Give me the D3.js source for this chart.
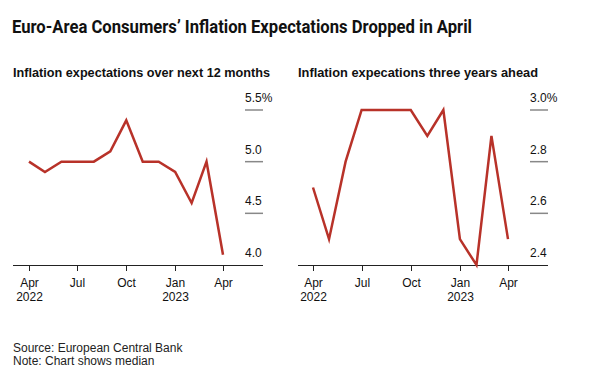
<!DOCTYPE html>
<html>
<head>
<meta charset="utf-8">
<script src="https://cdn.jsdelivr.net/npm/d3@7"></script>
<style>
  body { margin: 0; background: #fff; }
  text { font-family: "Liberation Sans", Arial, sans-serif; fill: #111; }
</style>
</head>
<body>
<svg id="chart" width="611" height="387"></svg>
<script>
// monthly data, Apr 2022 .. Apr 2023
var months      = ["2022-04","2022-05","2022-06","2022-07","2022-08","2022-09","2022-10",
                   "2022-11","2022-12","2023-01","2023-02","2023-03","2023-04"];
var next12      = [5.0, 4.9, 5.0, 5.0, 5.0, 5.1, 5.4, 5.0, 5.0, 4.9, 4.6, 5.0, 4.1];
var threeYears  = [2.7, 2.5, 2.8, 3.0, 3.0, 3.0, 3.0, 2.9, 3.0, 2.5, 2.4, 2.9, 2.5];
var tickMonths  = ["2022-04","2022-07","2022-10","2023-01","2023-04"];
var tickLabels  = [["Apr","2022"],["Jul",""],["Oct",""],["Jan","2023"],["Apr",""]];
var leftTicks   = [4.0, 4.5, 5.0, 5.5];
var rightTicks  = [2.4, 2.6, 2.8, 3.0];

var parse = d3.timeParse("%Y-%m");
var svg = d3.select("#chart");
var red = "#b83229";

// title, squeezed to the reference width
svg.append("text")
  .attr("x", 12).attr("y", 33)
  .style("font-family", "Roboto, 'Liberation Sans', sans-serif")
  .style("font-weight", "700")
  .style("font-size", "19px")
  .attr("textLength", 460).attr("lengthAdjust", "spacingAndGlyphs")
  .text("Euro-Area Consumers\u2019 Inflation Expectations Dropped in April");

function panel(opts) {
  var g = svg.append("g");

  g.append("text")
    .attr("x", opts.x0).attr("y", 77)
    .style("font-weight", "700").style("font-size", "12.5px")
    .attr("textLength", opts.subW).attr("lengthAdjust", "spacingAndGlyphs")
    .text(opts.subtitle);

  var x = d3.scaleTime()
    .domain([parse(months[0]), parse(months[months.length - 1])])
    .range([opts.xa, opts.xb]);
  var y = d3.scaleLinear()
    .domain([opts.ticks[0], opts.ticks[opts.ticks.length - 1]])
    .range([265, 110]);

  // y gridline stubs + labels
  opts.ticks.forEach(function(t, i) {
    if (i > 0) {
      g.append("line")
        .attr("x1", opts.gx).attr("x2", opts.x1)
        .attr("y1", y(t)).attr("y2", y(t))
        .attr("stroke", "#888").attr("stroke-width", 1.5);
    }
    g.append("text")
      .attr("x", opts.gx).attr("y", y(t) - 8)
      .style("font-size", "12px")
      .text(t.toFixed(1) + (i == opts.ticks.length - 1 ? "%" : ""));
  });

  // baseline
  g.append("line")
    .attr("x1", opts.x0).attr("x2", opts.x1)
    .attr("y1", 265.5).attr("y2", 265.5)
    .attr("stroke", "#222").attr("stroke-width", 1);

  tickMonths.forEach(function(m, i) {
    var tx = Math.round(x(parse(m))) + 0.5;
    g.append("line")
      .attr("x1", tx).attr("x2", tx).attr("y1", 265).attr("y2", 271)
      .attr("stroke", "#222");
    g.append("text").attr("x", tx).attr("y", 287)
      .attr("text-anchor", "middle").style("font-size", "12px")
      .text(tickLabels[i][0]);
    if (tickLabels[i][1]) {
      g.append("text").attr("x", tx).attr("y", 301)
        .attr("text-anchor", "middle").style("font-size", "12px")
        .text(tickLabels[i][1]);
    }
  });

  var line = d3.line()
    .x(function(d, i) { return x(parse(months[i])); })
    .y(function(d) { return y(d); });

  g.append("path")
    .datum(opts.values)
    .attr("d", line)
    .attr("fill", "none")
    .attr("stroke", red)
    .attr("stroke-width", 2.5)
    .attr("stroke-linejoin", "miter");
}

panel({x0: 13, x1: 263, xa: 29, xb: 223, gx: 245, subW: 257,
  subtitle: "Inflation expectations over next 12 months", ticks: leftTicks, values: next12});
panel({x0: 298, x1: 548, xa: 313, xb: 508, gx: 530, subW: 240,
  subtitle: "Inflation expecations three years ahead", ticks: rightTicks, values: threeYears});

svg.append("text").attr("x", 13).attr("y", 352)
  .style("font-size", "12px").style("fill", "#222")
  .text("Source: European Central Bank");
svg.append("text").attr("x", 13).attr("y", 365)
  .style("font-size", "12px").style("fill", "#222")
  .text("Note: Chart shows median");
</script>
</body>
</html>
